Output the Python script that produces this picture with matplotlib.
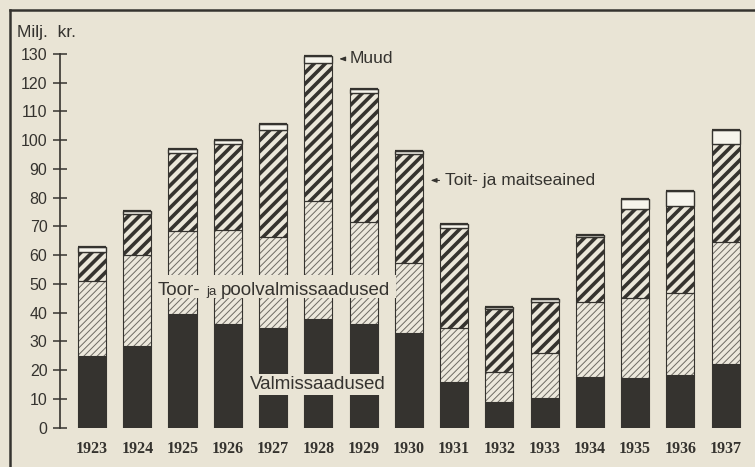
import matplotlib
matplotlib.use("Agg")
import matplotlib.pyplot as plt
from matplotlib.lines import Line2D
from matplotlib.patches import Rectangle
import numpy as np

# Estonian import by groups, million kroons
years = [1923, 1924, 1925, 1926, 1927, 1928, 1929, 1930,
         1931, 1932, 1933, 1934, 1935, 1936, 1937]
valmis = [25.0, 28.5, 39.5, 36.0, 34.5, 37.8, 36.0, 33.0,
          15.9, 8.8, 10.2, 17.7, 17.1, 18.3, 22.0]
toor = [26.0, 31.7, 29.0, 32.8, 31.7, 41.1, 35.4, 24.1,
        18.6, 10.4, 15.6, 26.1, 27.8, 28.4, 42.4]
toit = [10.0, 14.0, 26.9, 29.9, 37.5, 48.0, 45.1, 38.0,
        35.1, 22.1, 18.0, 22.4, 31.0, 30.4, 34.2]
muud = [1.9, 1.2, 1.6, 1.4, 2.1, 2.4, 1.2, 1.2,
        1.2, 0.5, 0.9, 0.8, 3.5, 5.2, 5.1]
yticks = list(range(0, 131, 10))

paper = "#e9e4d5"
ink = "#35332f"
white = "#f6f4ec"

W, H = 755, 467
fig = plt.figure(figsize=(W / 100, H / 100), dpi=100, facecolor=paper)
ax = fig.add_axes([60 / W, (H - 427.5) / H, (W - 60) / W, (427.5 - 54) / H])
ax.set_facecolor(paper)

x = np.arange(len(years))
bw = 0.62
valmis = np.array(valmis)
toor = np.array(toor)
toit = np.array(toit)
muud = np.array(muud)

# black: finished goods
ax.bar(x, valmis, bw, color=ink, edgecolor=ink, linewidth=0.8, zorder=2)

# light thin hatch: raw and semi-finished materials
plt.rcParams["hatch.linewidth"] = 0.7
ax.bar(x, toor, bw, bottom=valmis, color="#ece8dc", edgecolor="#6d6a63",
       hatch="/////", linewidth=0, zorder=2)
ax.bar(x, toor, bw, bottom=valmis, fill=False, edgecolor=ink, linewidth=0.8, zorder=3)

# heavy hatch: food and luxury goods
plt.rcParams["hatch.linewidth"] = 2.6
ax.bar(x, toit, bw, bottom=valmis + toor, color="#ebe7da", edgecolor=ink,
       hatch="///", linewidth=0, zorder=2)
ax.bar(x, toit, bw, bottom=valmis + toor, fill=False, edgecolor=ink, linewidth=0.8, zorder=3)

# white: other
ax.bar(x, muud, bw, bottom=valmis + toor + toit, color=white, edgecolor=ink,
       linewidth=1.0, zorder=3)
ax.hlines(valmis + toor + toit + muud, x - bw / 2, x + bw / 2, color=ink, lw=1.6, zorder=4)

ax.set_xlim(-0.707, 14.65)
ax.set_ylim(0, 130)

for s in ["top", "right", "bottom"]:
    ax.spines[s].set_visible(False)
ax.spines["left"].set_color(ink)
ax.spines["left"].set_linewidth(1.2)

ax.set_yticks(yticks)
ax.tick_params(axis="y", direction="inout", length=10, width=1.1, color=ink,
               labelsize=11.5, labelcolor=ink, pad=4)
for lab in ax.get_yticklabels():
    lab.set_fontfamily("Liberation Sans")

ax.set_xticks(x)
ax.set_xticklabels([str(y) for y in years], fontfamily="Liberation Serif",
                   fontweight="bold", fontsize=11.5, color=ink)
ax.tick_params(axis="x", length=0, pad=10)

# gaps cut into the bars behind the inline labels
ax.add_patch(Rectangle((1.38, 45.0), 5.33, 8.2, color=paper, zorder=5, lw=0))
ax.add_patch(Rectangle((3.6, 11.3), 3.05, 7.4, color=paper, zorder=5, lw=0))

lab_font = "Liberation Sans"
ax.text(1.46, 46.0, "Toor-", fontsize=13.5, family=lab_font, color=ink,
        va="baseline", ha="left", zorder=6)
ax.text(2.53, 46.0, "ja", fontsize=9.5, family=lab_font, color=ink,
        va="baseline", ha="left", zorder=6)
ax.text(2.85, 46.0, "poolvalmissaadused", fontsize=13.5, family=lab_font, color=ink,
        va="baseline", ha="left", zorder=6)
ax.text(5.0, 14.8, "Valmissaadused", fontsize=13.5, family=lab_font, color=ink,
        va="center", ha="center", zorder=6)

ax.annotate("", xy=(5.40, 128.3), xytext=(5.64, 128.3),
            arrowprops=dict(arrowstyle="-|>,head_length=0.35,head_width=0.13",
                            color=ink, lw=0.8), zorder=6)
ax.text(5.7, 128.3, "Muud", fontsize=12.5, family=lab_font, color=ink,
        va="center", ha="left", zorder=6)
ax.annotate("", xy=(7.42, 86.0), xytext=(7.74, 86.0),
            arrowprops=dict(arrowstyle="-|>,head_length=0.35,head_width=0.13",
                            color=ink, lw=0.8), zorder=6)
ax.text(7.8, 86.0, "Toit- ja maitseained", fontsize=12.5, family=lab_font, color=ink,
        va="center", ha="left", zorder=6)

fig.text(17 / W, 1 - 32 / H, "Milj.  kr.", fontsize=12.5, family=lab_font,
         color=ink, va="center", ha="left")

# page frame
fig.add_artist(Line2D([10 / W, 1.0], [1 - 10 / H, 1 - 10 / H], color=ink, lw=1.8))
fig.add_artist(Line2D([10 / W, 10 / W], [0.0, 1 - 10 / H], color=ink, lw=1.8))

fig.savefig("out.png", dpi=100, facecolor=paper)
